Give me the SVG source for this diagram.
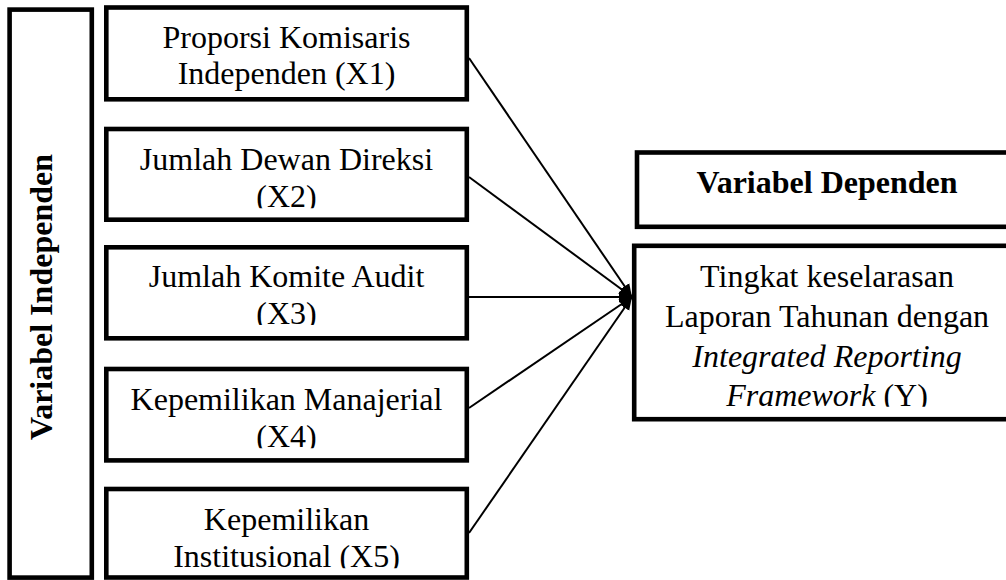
<svg xmlns="http://www.w3.org/2000/svg" width="1006" height="580" viewBox="0 0 1006 580">
<style>
.box{fill:#fff;stroke:#000;stroke-width:4.6}
.t{font-family:"Liberation Serif","Times New Roman",serif;font-size:32px;fill:#000;text-anchor:middle}
.b{font-weight:bold}
.i{font-style:italic}
.conn line{stroke:#000;stroke-width:2;marker-end:url(#arr)}
</style>
<defs>
<marker id="arr" markerUnits="userSpaceOnUse" markerWidth="14" markerHeight="12" refX="13" refY="6" orient="auto">
<path d="M0,0.5 L13,6 L0,11.5 z" fill="#000"/>
</marker>
<clipPath id="c1"><rect x="106" y="8" width="360" height="90"/></clipPath>
<clipPath id="c2"><rect x="106" y="129" width="360" height="79.3"/></clipPath>
<clipPath id="c3"><rect x="106" y="247" width="360" height="78"/></clipPath>
<clipPath id="c4"><rect x="106" y="369" width="360" height="79.3"/></clipPath>
<clipPath id="c5"><rect x="106" y="489" width="360" height="79.3"/></clipPath>
<clipPath id="cy"><rect x="636" y="246" width="380" height="160.7"/></clipPath>
</defs>
<rect width="1006" height="580" fill="#fff"/>

<g id="independen">
<rect class="box" x="9.6" y="9.6" width="82.2" height="568"/>
<text class="t b" transform="translate(52,297) rotate(-90)">Variabel Independen</text>
</g>

<g id="x1">
<rect class="box" x="106.3" y="7.5" width="360.5" height="91.8"/>
<g clip-path="url(#c1)">
<text class="t" x="286.5" y="47.7">Proporsi Komisaris</text>
<text class="t" x="286.5" y="84">Independen (X1)</text>
</g>
</g>

<g id="x2">
<rect class="box" x="106.3" y="129" width="360.5" height="90.7"/>
<g clip-path="url(#c2)">
<text class="t" x="286.5" y="170">Jumlah Dewan Direksi</text>
<text class="t" x="286.5" y="206.5">(X2)</text>
</g>
</g>

<g id="x3">
<rect class="box" x="106.3" y="247.3" width="360.5" height="91"/>
<g clip-path="url(#c3)">
<text class="t" x="286.5" y="287.3">Jumlah Komite Audit</text>
<text class="t" x="286.5" y="323.8">(X3)</text>
</g>
</g>

<g id="x4">
<rect class="box" x="106.3" y="369" width="360.5" height="91.4"/>
<g clip-path="url(#c4)">
<text class="t" x="286.5" y="410">Kepemilikan Manajerial</text>
<text class="t" x="286.5" y="446.5">(X4)</text>
</g>
</g>

<g id="x5">
<rect class="box" x="106.3" y="489" width="360.5" height="88.5"/>
<g clip-path="url(#c5)">
<text class="t" x="286.5" y="530">Kepemilikan</text>
<text class="t" x="286.5" y="566.5">Institusional (X5)</text>
</g>
</g>

<g id="dependen-label">
<rect class="box" x="637" y="152.5" width="380" height="74.3"/>
<text class="t b" x="827" y="193">Variabel Dependen</text>
</g>

<g id="y">
<rect class="box" x="634.2" y="245.8" width="385" height="173.4"/>
<g clip-path="url(#cy)">
<text class="t" x="827" y="287.3">Tingkat keselarasan</text>
<text class="t" x="827" y="327">Laporan Tahunan dengan</text>
<text class="t i" x="827" y="366.7">Integrated Reporting</text>
<text class="t" x="827" y="406.4"><tspan class="i">Framework</tspan> (Y)</text>
</g>
</g>

<g id="connectors" class="conn">
<line x1="469" y1="58" x2="632" y2="297"/>
<line x1="469" y1="177" x2="632" y2="297"/>
<line x1="469" y1="297" x2="632" y2="297"/>
<line x1="469" y1="408" x2="632" y2="297"/>
<line x1="469" y1="533" x2="632" y2="297"/>
</g>
</svg>
